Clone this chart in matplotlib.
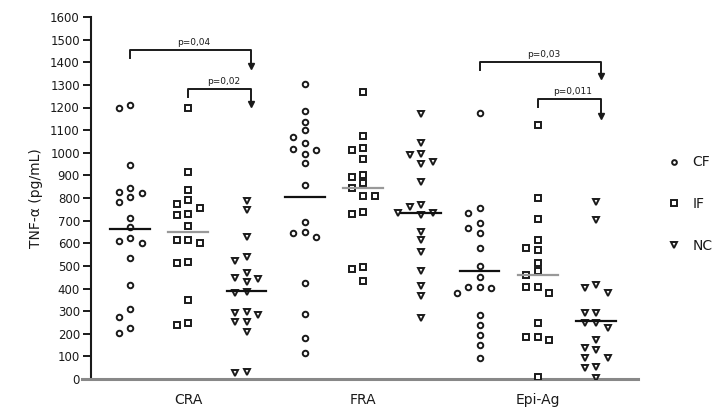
import numpy as np
import matplotlib
matplotlib.use("Agg")
from matplotlib import pyplot as plt
from matplotlib.lines import Line2D

groups = ["CRA", "FRA", "Epi-Ag"]
series = ["CF", "IF", "NC"]

cra_cf = [1210, 1200, 946, 845, 827, 822, 805, 783, 711, 672, 623, 608, 601, 535, 415, 309, 274, 225, 203]
cra_if = [1197, 915, 835, 790, 775, 755, 730, 725, 676, 614, 614, 601, 518, 513, 349, 248, 239]
cra_nc = [785, 745, 627, 539, 521, 470, 446, 442, 429, 385, 380, 296, 290, 283, 252, 252, 208, 31, 27]
fra_cf = [1304, 1185, 1136, 1100, 1070, 1043, 1017, 1012, 994, 955, 857, 694, 650, 645, 628, 424, 287, 181, 115]
fra_if = [1268, 1074, 1021, 1012, 972, 902, 893, 866, 844, 809, 809, 738, 729, 495, 486, 433]
fra_nc = [1171, 1043, 994, 990, 959, 950, 871, 769, 760, 734, 734, 725, 650, 614, 561, 477, 411, 367, 270]
epi_cf = [1176, 756, 734, 690, 667, 645, 579, 499, 451, 407, 407, 402, 380, 283, 239, 194, 150, 93]
epi_if = [1123, 800, 707, 614, 579, 570, 513, 477, 460, 407, 407, 380, 248, 186, 186, 172, 9]
epi_nc = [782, 703, 415, 402, 380, 292, 292, 248, 248, 225, 172, 137, 128, 93, 93, 53, 49, 4]

data = [[cra_cf, cra_if, cra_nc], [fra_cf, fra_if, fra_nc], [epi_cf, epi_if, epi_nc]]
medians = [[663, 650, 389], [804, 844, 734], [477, 460, 256]]

# comparisons: (group, series a, series b, bracket height, right arrow end, label)
brackets = [
    (0, 0, 2, 1454, 1357, "p=0,04"),
    (0, 1, 2, 1282, 1190, "p=0,02"),
    (2, 0, 2, 1401, 1316, "p=0,03"),
    (2, 1, 2, 1237, 1136, "p=0,011"),
]

markers = {"CF": "o", "IF": "s", "NC": "v"}
msize = {"CF": 4.0, "IF": 4.8, "NC": 4.6}
med_color = {"CF": "#111111", "IF": "#999999", "NC": "#111111"}
ink = "#1a1a1a"

px_x = 58.25      # pixels per x unit
px_y = 0.22625    # pixels per TNF unit


def swarm(vals, step=11.5, mind=8.0):
    # simple column scatter: spread points that would overlap
    order = np.argsort(vals)[::-1]
    placed = []
    offs = np.zeros(len(vals))
    for i in order:
        y = vals[i] * px_y
        cands = [0]
        for k in range(1, 6):
            cands += [-k * step, k * step]
        for c in cands:
            ok = True
            for (px, py) in placed:
                if np.hypot(px - c, py - y) < mind:
                    ok = False
                    break
            if ok:
                break
        offs[i] = c
        placed.append((c, y))
    return offs / px_x


fig = plt.figure(figsize=(7.14, 4.16), dpi=100)
ax = fig.add_axes([91 / 714, 37 / 416, (638 - 91) / 714, 362 / 416])

for g in range(3):
    for s, name in enumerate(series):
        pos = g * 3 + s
        vals = np.array(data[g][s], dtype=float)
        xs = pos + swarm(vals)
        ax.plot(xs, vals, linestyle="none", marker=markers[name], ms=msize[name],
                mfc="white", mec=ink, mew=1.4, zorder=3)
        ax.plot([pos - 0.34, pos + 0.34], [medians[g][s]] * 2, color=med_color[name],
                lw=1.6, zorder=4)

for g, a, b, h, tip, lab in brackets:
    xa, xb = g * 3 + a, g * 3 + b
    ax.plot([xa, xa, xb + 0.08, xb + 0.08], [h - 35, h, h, tip + 20], color=ink, lw=1.4, clip_on=False)
    ax.plot([xb + 0.08], [tip + 25], marker="v", ms=4, color=ink, clip_on=False)
    ax.text((xa + xb) / 2 + 0.1, h + 15, lab, ha="center", va="bottom", fontsize=6.5, color=ink)

ax.set_xlim(-0.67, 8.72)
ax.set_ylim(0, 1600)
ax.set_yticks(np.arange(0, 1700, 100))
ax.tick_params(axis="y", labelsize=8.5, length=6, width=1.4, color=ink, labelcolor=ink, pad=2)
ax.set_xticks([1, 4, 7])
ax.set_xticklabels(groups, fontsize=10, color=ink)
ax.tick_params(axis="x", length=0, pad=10)

ax.spines["top"].set_visible(False)
ax.spines["right"].set_visible(False)
ax.spines["left"].set_linewidth(1.5)
ax.spines["left"].set_color(ink)
ax.spines["bottom"].set_linewidth(2.2)
ax.spines["bottom"].set_color("#888888")
ax.spines["bottom"].set_bounds(-0.82, 8.72)
ax.set_ylabel("TNF-α (pg/mL)", fontsize=10, color=ink, labelpad=5)

handles = [Line2D([], [], linestyle="none", marker=markers[n], ms=msize[n] - 0.6,
                  mfc="white", mec=ink, mew=1.4) for n in series]
fig.legend(handles, series, loc="upper left", bbox_to_anchor=(655 / 714, 1 - 143 / 416),
           frameon=False, fontsize=10, labelspacing=2.0, handletextpad=0.8,
           handlelength=1.0, labelcolor=ink)

fig.savefig("out.png", dpi=100)
